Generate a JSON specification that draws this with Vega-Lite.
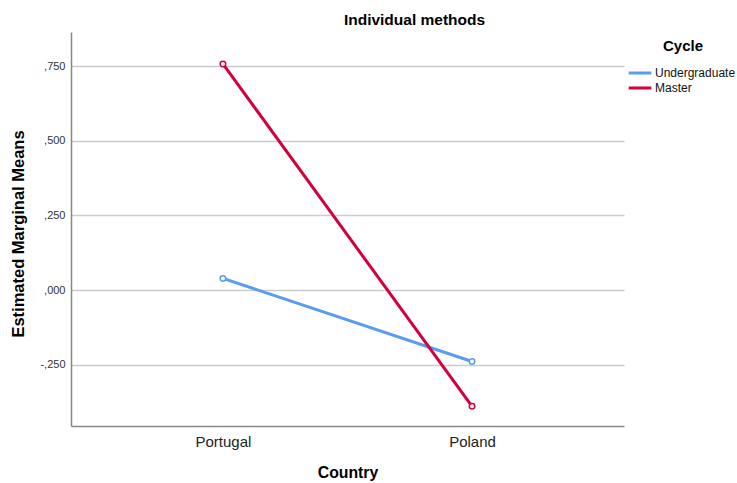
{
  "$schema": "https://vega.github.io/schema/vega-lite/v6.json",
  "autosize": "none",
  "width": 553,
  "height": 394,
  "padding": {"left": 71, "top": 32, "right": 113, "bottom": 57},
  "background": "white",
  "title": {"text": "Individual methods", "font": "Liberation Sans", "fontSize": 15.5, "fontWeight": "bold", "color": "#000000", "anchor": "middle", "dx": 67, "offset": 4},
  "data": {"values": [
    {"Country": "Portugal", "Cycle": "Undergraduate", "mean": 0.039},
    {"Country": "Poland", "Cycle": "Undergraduate", "mean": -0.239},
    {"Country": "Portugal", "Cycle": "Master", "mean": 0.757},
    {"Country": "Poland", "Cycle": "Master", "mean": -0.389}
  ]},
  "encoding": {
    "x": {"field": "Country", "type": "nominal", "sort": ["Portugal", "Poland"],
      "scale": {"type": "point", "padding": 0.61},
      "axis": {"title": "Country", "titleFont": "Liberation Sans", "titleFontSize": 15.8, "titleFontWeight": "bold", "titleColor": "#000", "titlePadding": 16,
        "labelFont": "Liberation Sans", "labelFontSize": 15, "labelColor": "#222", "labelPadding": 8, "ticks": false, "grid": false, "domainColor": "#888", "domainWidth": 1.5, "labelAngle": 0}},
    "y": {"field": "mean", "type": "quantitative",
      "scale": {"domain": [-0.455, 0.864], "nice": false, "zero": false},
      "axis": {"title": "Estimated Marginal Means", "titleFont": "Liberation Sans", "titleFontSize": 16.5, "titleFontWeight": "bold", "titleColor": "#000", "titleX": -52.5, "titleY": 201.5, "titleAngle": -90, "titleBaseline": "middle", "titleAlign": "center",
        "values": [0.75, 0.5, 0.25, 0, -0.25],
        "labelExpr": "(datum.value < 0 ? '-' : '') + replace(format(abs(datum.value), '.3f'), '0.', ',')",
        "labelFont": "Liberation Sans", "labelFontSize": 11, "labelColor": "#333", "labelPadding": 6, "ticks": false,
        "grid": true, "gridColor": "#cccccc", "gridWidth": 1.5, "domainColor": "#888", "domainWidth": 1.5}},
    "color": {"field": "Cycle", "type": "nominal", "sort": ["Undergraduate", "Master"],
      "scale": {"domain": ["Undergraduate", "Master"], "range": ["#5B9BEB", "#D2003C"]},
      "legend": {"orient": "none", "legendX": 560, "legendY": 7, "title": "Cycle", "titleFont": "Liberation Sans", "titleFontSize": 15, "titleFontWeight": "bold", "titleColor": "#000", "titleAnchor": "middle", "titlePadding": 10,
        "labelFont": "Liberation Sans", "labelFontSize": 12, "labelColor": "#111", "symbolType": "M-1.6,0H1.6", "symbolStrokeWidth": 3, "symbolSize": 200, "rowPadding": 0, "labelOffset": 6}}
  },
  "layer": [
    {"mark": {"type": "line", "strokeWidth": 3}},
    {"mark": {"type": "point", "shape": "circle", "filled": false, "fill": "white", "fillOpacity": 1, "size": 30, "strokeWidth": 1.5, "opacity": 1}}
  ],
  "config": {"view": {"stroke": null}}
}
